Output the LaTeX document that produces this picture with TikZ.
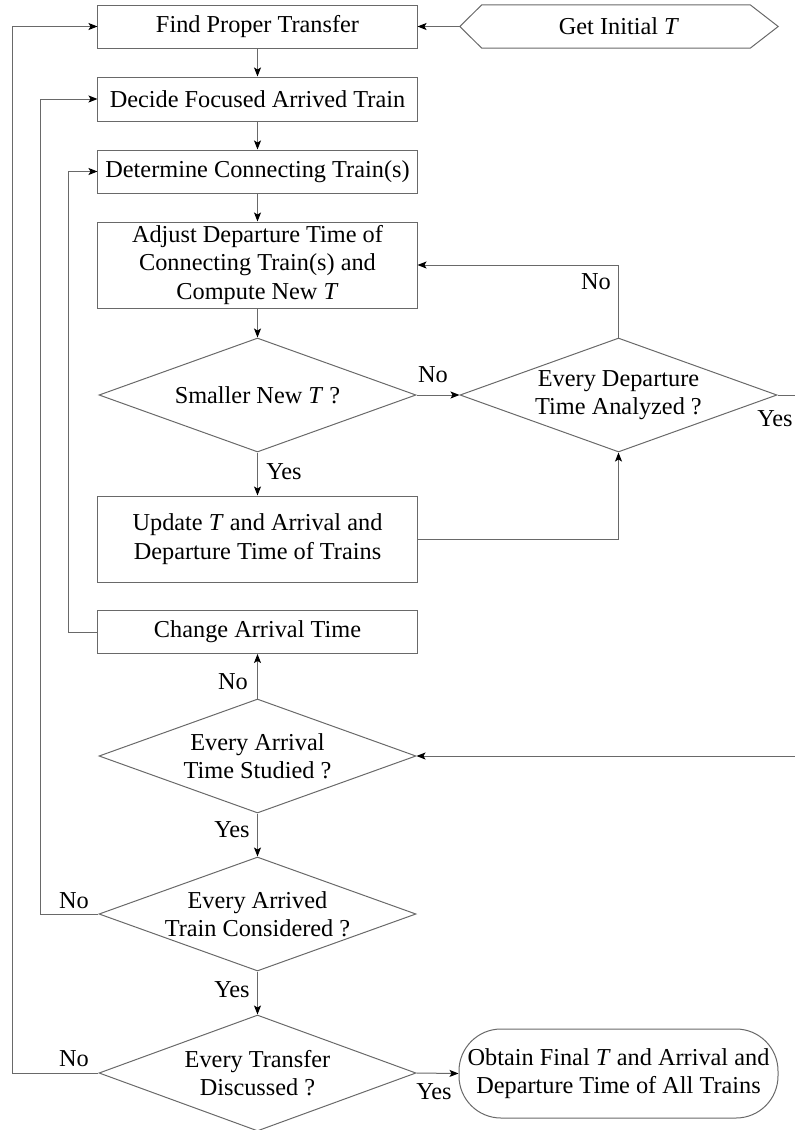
\documentclass[tikz,border=0pt]{standalone}
\usepackage{fontspec}
\setmainfont{Liberation Serif}
\usetikzlibrary{shapes.geometric,arrows.meta}
\definecolor{linegray}{RGB}{105,105,105}
\tikzset{
  line/.style={draw=linegray, line width=1bp},
  arr/.style={line, -{Stealth[length=9bp,width=7bp,inset=2bp,color=black]}},
  procbox/.style={line, rectangle, minimum width=319bp, inner sep=0pt, align=center, font=\fontsize{24.4}{28.5}\selectfont},
  decbox/.style={line, shape=diamond, minimum width=317bp, minimum height=114bp, inner sep=0pt},
  dectext/.style={align=center, inner sep=0pt, font=\fontsize{24.4}{28.5}\selectfont},
  lab/.style={inner sep=0pt, font=\fontsize{24.4}{28.5}\selectfont},
}
\begin{document}
\begin{tikzpicture}[x=1bp, y=-1bp]
\useasboundingbox (0,0) rectangle (795,1130);
\clip (0,0) rectangle (795,1130);
% process boxes
\node[procbox, minimum height=43bp] (find) at (257.5,26.5) {Find Proper Transfer};
\node[procbox, minimum height=44bp] (decide) at (257.5,99) {Decide Focused Arrived Train};
\node[procbox, minimum height=43bp] (determine) at (257.5,171.5) {Determine Connecting Train(s)};
\node[procbox, minimum height=86bp] (adjust) at (257.5,265) {Adjust Departure Time of\\Connecting Train(s) and\\Compute New \textit{T}};
\node[procbox, minimum height=86bp] (update) at (257.5,539) {Update \textit{T} and Arrival and\\Departure Time of Trains};
\node[procbox, minimum height=43bp] (change) at (257.5,632) {Change Arrival Time};
% start hexagon
\node[inner sep=0pt, minimum width=318bp, minimum height=43bp, font=\fontsize{24.4}{28.5}\selectfont] (init) at (619,26.5) {Get Initial \textit{T}};
\draw[line] (init.west) -- ([xshift=22bp]init.north west) -- ([xshift=-28bp]init.north east) -- (init.east) -- ([xshift=-28bp]init.south east) -- ([xshift=22bp]init.south west) -- cycle;
% decisions
\node[decbox] (small) at (257.5,395) {};
\node[dectext] (smallt) at (small) {Smaller New \textit{T} ?};
\node[decbox] (dep) at (618.5,395) {};
\node[dectext] (dept) at (dep) {Every Departure\\Time Analyzed ?};
\node[decbox] (arrival) at (257.5,756) {};
\node[dectext] (arrivalt) at (arrival) {Every Arrival\\Time Studied ?};
\node[decbox] (arrived) at (257.5,914) {};
\node[dectext] (arrivedt) at (arrived) {Every Arrived\\Train Considered ?};
\node[decbox, minimum height=116bp] (transfer) at (257.5,1073) {};
\node[dectext] (transfert) at (transfer) {Every Transfer\\Discussed ?};
% terminal
\node[line, rectangle, rounded corners=42bp, minimum width=319bp, minimum height=89bp, inner sep=0pt, align=center, font=\fontsize{24.4}{28.5}\selectfont] (final) at (618.5,1073.5) {Obtain Final \textit{T} and Arrival and\\Departure Time of All Trains};
% helper coordinates for loop lines
\coordinate (xa) at (12,0);
\coordinate (xb) at (40,0);
\coordinate (xc) at (68,0);
\coordinate (xr) at (830,0);
% connectors
\draw[arr] (init.west) -- (find.east);
\draw[arr] (find.south) -- (decide.north);
\draw[arr] (decide.south) -- (determine.north);
\draw[arr] (determine.south) -- (adjust.north);
\draw[arr] (adjust.south) -- (small.north);
\draw[arr] (small.east) -- (dep.west);
\draw[arr] (small.south) -- (update.north);
\draw[arr] (dep.north) |- (adjust.east);
\draw[arr] (update.east) -| (dep.south);
\draw[arr] (dep.east) -- (dep.east -| xr) -- (arrival.east -| xr) -- (arrival.east);
\draw[arr] (arrival.north) -- (change.south);
\draw[arr] (change.west) -- (change.west -| xc) |- (determine.west);
\draw[arr] (arrival.south) -- (arrived.north);
\draw[arr] (arrived.west) -- (arrived.west -| xb) |- (decide.west);
\draw[arr] (arrived.south) -- (transfer.north);
\draw[arr] (transfer.west) -- (transfer.west -| xa) |- (find.west);
\draw[arr] (transfer.east) -- (final.west);
% labels
\node[lab] (l1) at (433,375) {No};
\node[lab] (l2) at (284,472) {Yes};
\node[lab] (l3) at (596,282) {No};
\node[lab] (l4) at (775,419) {Yes};
\node[lab] (l5) at (233,682) {No};
\node[lab] (l6) at (232,830) {Yes};
\node[lab] (l7) at (74,901) {No};
\node[lab] (l8) at (232,990) {Yes};
\node[lab] (l9) at (74,1059) {No};
\node[lab] (l10) at (434,1092) {Yes};
\end{tikzpicture}
\end{document}
